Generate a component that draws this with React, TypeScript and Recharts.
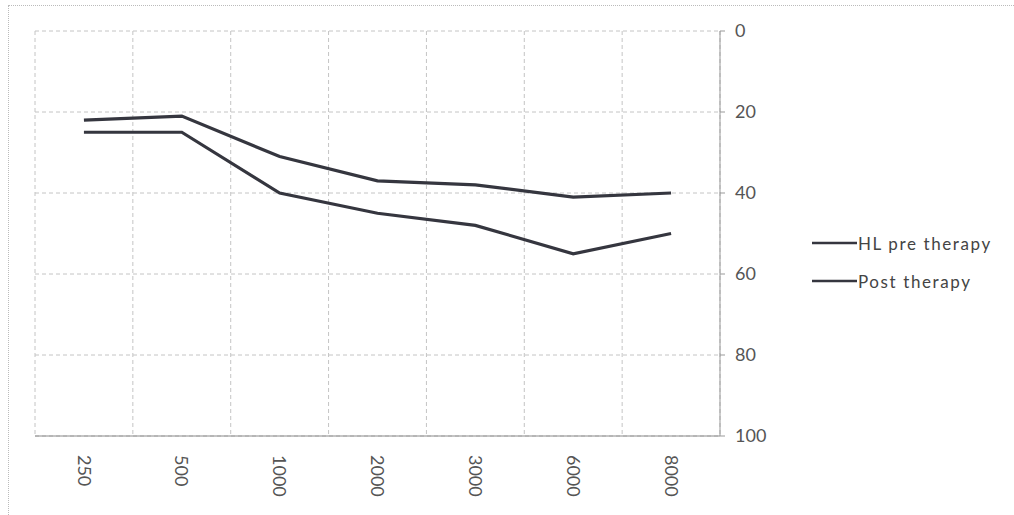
import { LineChart, Line, XAxis, YAxis, CartesianGrid } from 'recharts';

// frequencies (Hz) and hearing levels (dB)
const freqs = ['250', '500', '1000', '2000', '3000', '6000', '8000'];
const preTherapy = [25, 25, 40, 45, 48, 55, 50];
const postTherapy = [22, 21, 31, 37, 38, 41, 40];
const yTicks = [0, 20, 40, 60, 80, 100];
const seriesNames = ['HL pre therapy', 'Post therapy'];

const data = freqs.map((f, i) => ({
  idx: i,
  freq: f,
  pre: preTherapy[i],
  post: postTherapy[i],
}));

const FONT = 'Lato, "Open Sans", sans-serif';
const LINE = '#35363f';

const FreqTick = ({ x, y, payload }: any) => (
  <text
    x={x}
    y={y}
    dy="0.35em"
    transform={`rotate(90, ${x}, ${y})`}
    textAnchor="start"
    fill="#555"
    fontSize={18}
    fontFamily={FONT}
  >
    {freqs[payload.value]}
  </text>
);

// drawn outside the chart so it doesn't eat into the plot width
const LegendBox = () => (
  <div
    style={{
      position: 'absolute',
      left: 812,
      top: 224,
      fontFamily: FONT,
      fontSize: 17,
      letterSpacing: 1.6,
      color: '#444',
    }}
  >
    {seriesNames.map((n) => (
      <div key={n} style={{ display: 'flex', alignItems: 'center', height: 38 }}>
        <svg width={45} height={6}>
          <line x1={0} y1={3} x2={45} y2={3} stroke={LINE} strokeWidth={2.5} />
        </svg>
        <span style={{ marginLeft: 1 }}>{n}</span>
      </div>
    ))}
  </div>
);

export default function App() {
  return (
    <div style={{ position: 'absolute', left: 0, top: 0, width: 1014, height: 515, background: '#fff' }}>
      <div
        style={{
          position: 'absolute',
          left: 8,
          top: 5,
          right: 0,
          bottom: 0,
          borderTop: '1px dotted #bbb',
          borderLeft: '1px dotted #bbb',
        }}
      />
      <LineChart
        width={1014}
        height={515}
        data={data}
        margin={{ top: 31, right: 234, bottom: 9, left: 35 }}
      >
        <CartesianGrid
          stroke="#c4c4c4"
          strokeDasharray="4 3"
          verticalCoordinatesGenerator={({ offset }: any) =>
            [0, 1, 2, 3, 4, 5, 6, 7].map((i) => offset.left + (i * offset.width) / 7)
          }
        />
        <XAxis
          type="number"
          dataKey="idx"
          domain={[-0.5, 6.5]}
          ticks={[0, 1, 2, 3, 4, 5, 6]}
          tick={<FreqTick />}
          tickLine={false}
          axisLine={{ stroke: '#8a8a8a' }}
          height={70}
          tickMargin={13}
        />
        <YAxis
          orientation="right"
          reversed
          domain={[0, 100]}
          ticks={yTicks}
          width={60}
          tickSize={5}
          tickMargin={10}
          tickLine={{ stroke: '#999' }}
          axisLine={{ stroke: '#999' }}
          tick={{ fill: '#555', fontSize: 18, fontFamily: FONT }}
        />
        <Line
          dataKey="pre"
          name={seriesNames[0]}
          stroke={LINE}
          strokeWidth={3.2}
          dot={false}
          isAnimationActive={false}
        />
        <Line
          dataKey="post"
          name={seriesNames[1]}
          stroke={LINE}
          strokeWidth={3.2}
          dot={false}
          isAnimationActive={false}
        />
      </LineChart>
      <LegendBox />
    </div>
  );
}
